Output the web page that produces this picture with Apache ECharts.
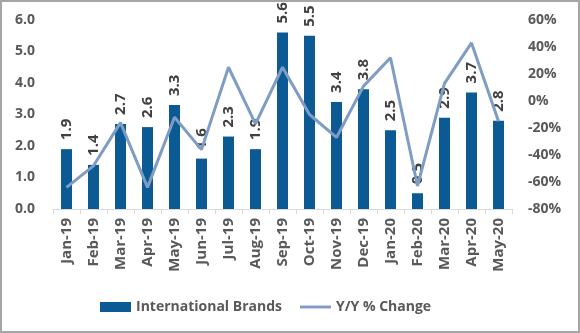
<!DOCTYPE html>
<html>
<head>
<meta charset="utf-8">
<script src="https://cdn.jsdelivr.net/npm/echarts@6/dist/echarts.min.js"></script>
<style>
html,body{margin:0;padding:0;background:#fff;}
#frame{position:absolute;left:0;top:0;width:576px;height:329px;border:2px solid #a6a6a6;}
#chart{position:absolute;left:0;top:0;width:580px;height:333px;}
</style>
</head>
<body>
<div id="frame"></div>
<div id="chart"></div>
<script>
const categories = ['Jan-19','Feb-19','Mar-19','Apr-19','May-19','Jun-19','Jul-19','Aug-19','Sep-19','Oct-19','Nov-19','Dec-19','Jan-20','Feb-20','Mar-20','Apr-20','May-20'];
const brands = [1.9,1.4,2.7,2.6,3.3,1.6,2.3,1.9,5.6,5.5,3.4,3.8,2.5,0.5,2.9,3.7,2.8];
const yoy = [-64,-48,-16,-64,-12,-36,25,-17,25,-10,-27,11,32,-63,13,43,-15];
const leftTicks = {min:0, max:6, interval:1};
const rightTicks = {min:-80, max:60, interval:20};

const font = '"Open Sans", "Noto Sans", sans-serif';
const chart = echarts.init(document.getElementById('chart'));
chart.setOption({
  animation:false,
  textStyle:{fontFamily:font},
  grid:{left:53, right:68, top:20, bottom:124, containLabel:false},
  legend:{
    bottom:14, left:95, itemGap:18, itemWidth:31, itemHeight:10,
    textStyle:{fontSize:14, fontWeight:'bold', color:'#595959', fontFamily:font},
    data:[{name:'International Brands', icon:'rect'},
          {name:'Y/Y % Change', icon:'path://M0,0H32V3H0Z'}]
  },
  xAxis:{
    type:'category', data:categories,
    axisLine:{lineStyle:{color:'#d9d9d9', width:1}},
    axisTick:{show:true, length:5, lineStyle:{color:'#d9d9d9'}},
    axisLabel:{rotate:90, interval:0, fontSize:15, fontWeight:'bold', color:'#595959', margin:9}
  },
  yAxis:[
    {type:'value', min:leftTicks.min, max:leftTicks.max, interval:leftTicks.interval,
     splitLine:{show:false}, axisLine:{show:false}, axisTick:{show:false},
     axisLabel:{formatter:v=>v.toFixed(1), fontSize:14, fontWeight:'bold', color:'#595959', margin:18}},
    {type:'value', min:rightTicks.min, max:rightTicks.max, interval:rightTicks.interval,
     splitLine:{show:false}, axisLine:{show:false}, axisTick:{show:false},
     axisLabel:{formatter:'{value}%', fontSize:14, fontWeight:'bold', color:'#595959', margin:16}}
  ],
  series:[
    {name:'International Brands', type:'bar', data:brands, barWidth:11,
     itemStyle:{color:'#0b5a94'},
     label:{show:true, position:'top', rotate:90, align:'left', verticalAlign:'middle', distance:9,
       formatter:p=>p.value.toFixed(1), fontSize:15, fontWeight:'bold', color:'#404040'}},
    {name:'Y/Y % Change', type:'line', yAxisIndex:1, data:yoy, showSymbol:false, symbol:'none',
     lineStyle:{color:'#7f9cc4', width:3}, itemStyle:{color:'#7f9cc4'}}
  ]
});
</script>
</body>
</html>
